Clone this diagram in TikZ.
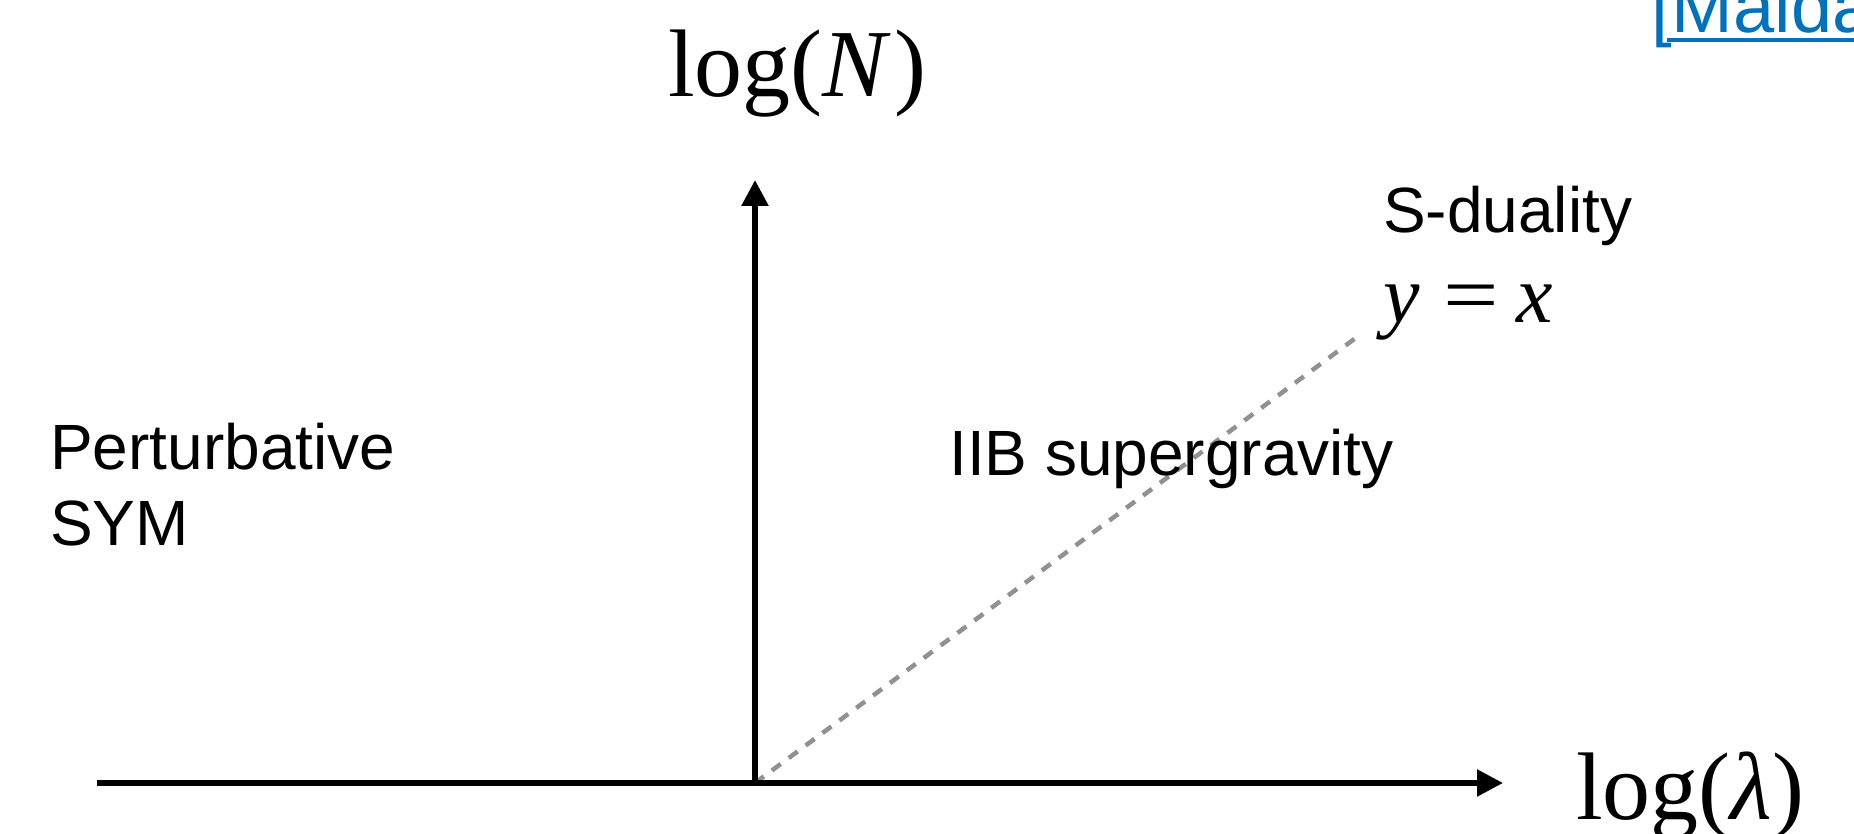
\documentclass[tikz,border=0pt]{standalone}
\usepackage{fontspec}
\setmainfont{Liberation Serif}
\setsansfont{Liberation Sans}
\usetikzlibrary{arrows.meta}
\definecolor{linkblue}{RGB}{0,114,188}
\definecolor{dashgray}{RGB}{145,145,145}
\tikzset{
  axis/.style={line width=5.5pt, -{Triangle[length=26pt,width=26pt]}},
  diag/.style={line width=4.5pt, dashgray, dash pattern=on 11pt off 10pt},
  sanslabel/.style={inner sep=0pt, anchor=base west, font=\sffamily\fontsize{64}{76}\selectfont},
  seriflabel/.style={inner sep=0pt, anchor=base west, font=\fontsize{96}{110}\selectfont},
  mathlabel/.style={inner sep=0pt, anchor=base west, font=\fontsize{82}{96}\selectfont},
}
\begin{document}
\begin{tikzpicture}[x=1pt,y=-1pt]
\clip (0,0) rectangle (1854,834);
\fill[white] (0,0) rectangle (1854,834);
\coordinate (O) at (755,783);
\coordinate (xstart) at (97,783);
\coordinate (xend) at (1503,783);
\coordinate (yend) at (755,180);
\coordinate (dend) at (1357,337);
\draw[diag] (O) -- (dend);
\draw[axis] (xstart) -- (xend);
\draw[axis] (O) -- (yend);
\node[seriflabel] (ylab) at (668,97) {log(\textit{N}\kern3pt)};
\node[seriflabel] (xlab) at (1576,819) {log(\textit{λ})};
\node[sanslabel] (sdual) at (1383,233) {S-duality};
\node[mathlabel] (yx) at (1383,322) {\textit{y}\hspace{24pt}\scalebox{1.2}[1]{=}\hspace{17pt}\textit{x}};
\node[sanslabel] (pert1) at (50,469) {Perturbative};
\node[sanslabel] (pert2) at (50,545) {SYM};
\node[sanslabel] (iib) at (949,475) {IIB supergravity};
\node[inner sep=0pt, anchor=base west, font=\sffamily\fontsize{74}{88}\selectfont, text=linkblue] (ref) at (1651,33) {[Maldacena]};
\coordinate (ulA) at (1667,40);
\coordinate (ulB) at (1900,40);
\draw[linkblue, line width=3.5pt] (ulA) -- (ulB);
\end{tikzpicture}
\end{document}
